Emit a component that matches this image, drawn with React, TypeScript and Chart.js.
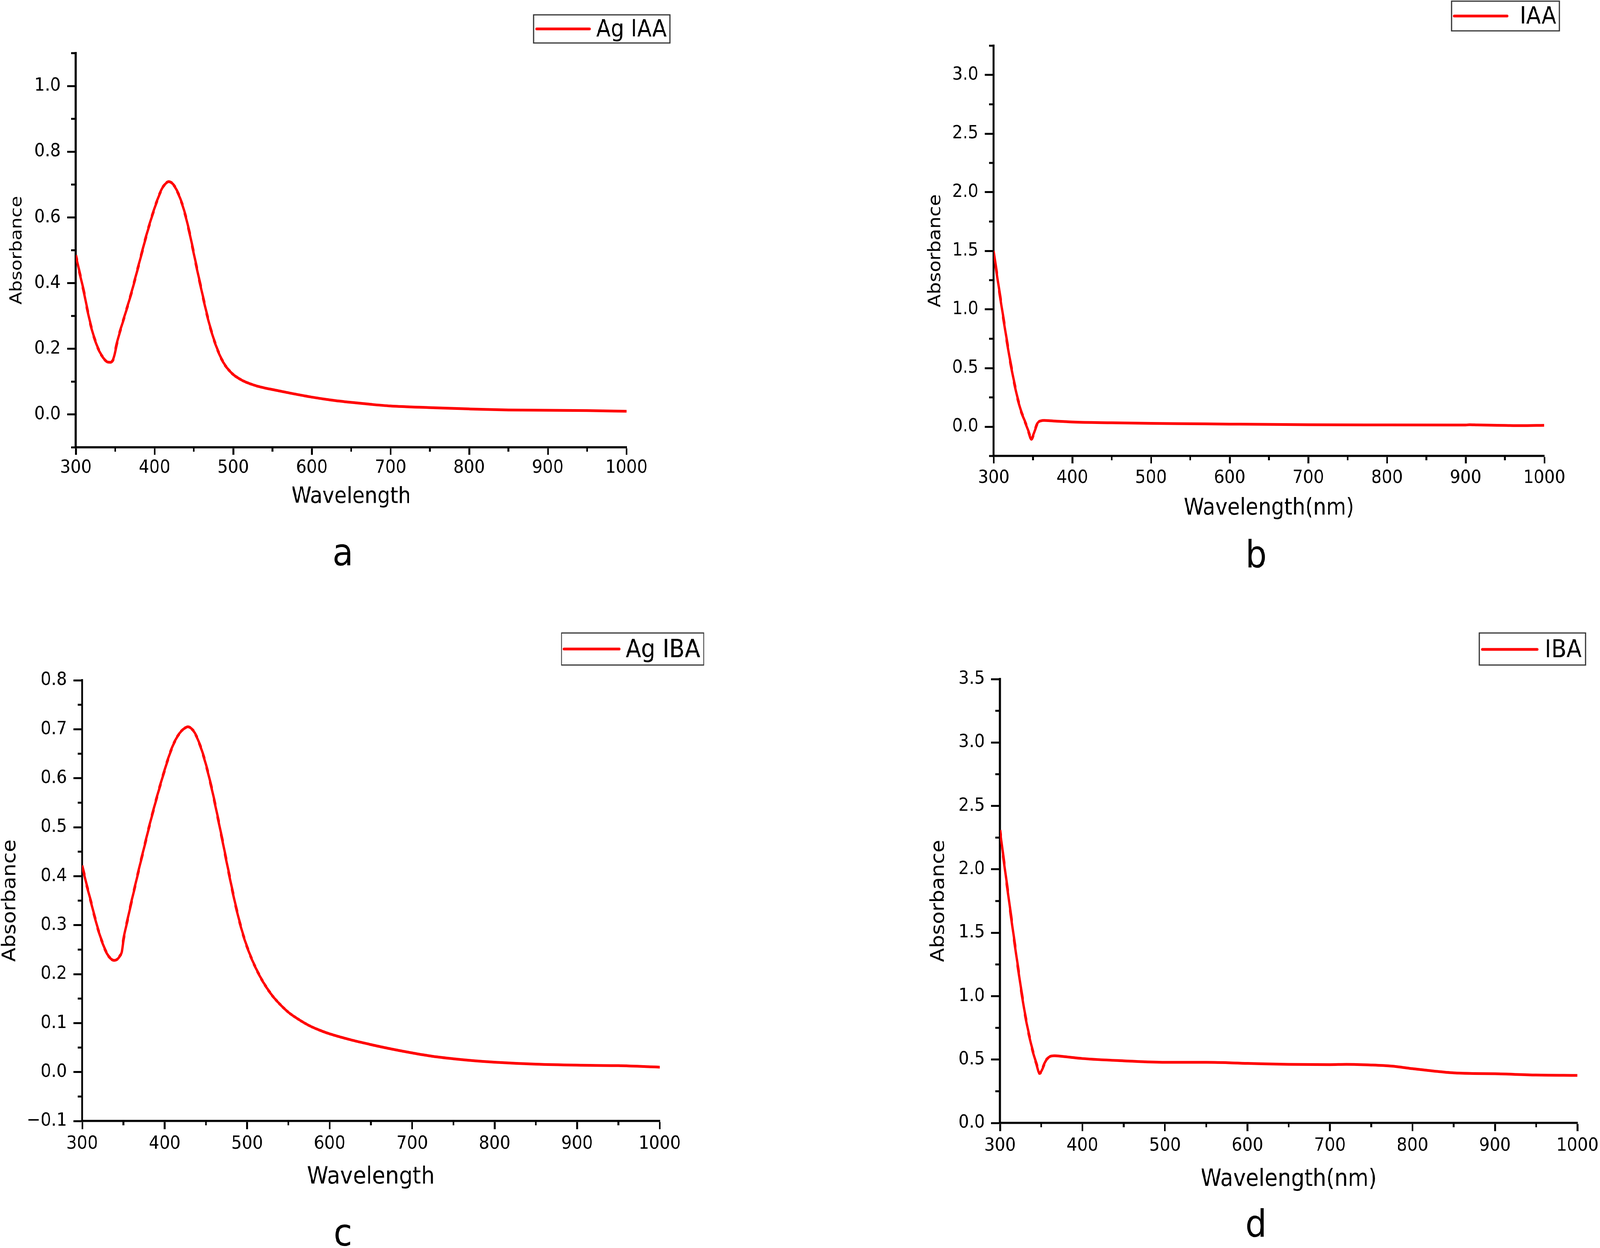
import React, { useEffect, useRef } from "react";
import { Chart, registerables } from "chart.js";

Chart.register(...registerables);

const FONT = "'DejaVu Sans', 'Liberation Sans', sans-serif";

// ---------- shared x axis ----------
const X_MAJOR = [300, 400, 500, 600, 700, 800, 900, 1000];
const X_MINOR = [350, 450, 550, 650, 750, 850, 950];

// ---------- panel a : Ag IAA ----------
const WL_A = [300, 305, 310, 315, 320, 325, 330, 335, 340, 344, 347, 349, 352, 356, 360, 370, 380, 390, 400, 405, 410, 415, 418, 422, 426, 430, 435, 440, 445, 450, 455, 460, 465, 470, 475, 480, 485, 490, 495, 500, 510, 520, 530, 540, 550, 575, 600, 625, 650, 675, 700, 750, 800, 850, 900, 950, 1000];
const ABS_A = [0.485, 0.43, 0.376, 0.315, 0.262, 0.222, 0.192, 0.172, 0.16, 0.159, 0.165, 0.18, 0.215, 0.252, 0.284, 0.365, 0.456, 0.548, 0.628, 0.662, 0.69, 0.705, 0.709, 0.705, 0.693, 0.674, 0.642, 0.6, 0.548, 0.49, 0.432, 0.376, 0.322, 0.273, 0.232, 0.198, 0.17, 0.149, 0.134, 0.122, 0.106, 0.095, 0.087, 0.081, 0.076, 0.064, 0.053, 0.044, 0.037, 0.031, 0.026, 0.021, 0.017, 0.014, 0.013, 0.012, 0.01];
const Y_MAJOR_A = [0, 0.2, 0.4, 0.6, 0.8, 1.0];
const Y_MINOR_A = [-0.1, 0.1, 0.3, 0.5, 0.7, 0.9, 1.1];

// ---------- panel b : IAA ----------
const WL_B = [300, 305, 310, 315, 320, 325, 330, 335, 340, 344, 348, 351, 353, 355, 357, 360, 364, 375, 400, 450, 500, 550, 600, 700, 800, 900, 905, 915, 950, 970, 1000];
const ABS_B = [1.5, 1.26, 1.03, 0.81, 0.6, 0.415, 0.255, 0.13, 0.04, -0.035, -0.108, -0.06, -0.02, 0.02, 0.04, 0.05, 0.053, 0.049, 0.04, 0.033, 0.028, 0.025, 0.022, 0.017, 0.015, 0.014, 0.017, 0.015, 0.011, 0.009, 0.012];
const Y_MAJOR_B = [0, 0.5, 1.0, 1.5, 2.0, 2.5, 3.0];
const Y_MINOR_B = [-0.25, 0.25, 0.75, 1.25, 1.75, 2.25, 2.75, 3.25];

// ---------- panel c : Ag IBA ----------
const WL_C = [300, 305, 310, 315, 320, 325, 330, 335, 339, 343, 346, 348, 350, 355, 360, 370, 380, 390, 400, 405, 410, 415, 420, 425, 428, 432, 436, 440, 445, 450, 455, 460, 465, 470, 475, 480, 485, 490, 495, 500, 505, 510, 515, 520, 530, 540, 550, 560, 575, 590, 600, 625, 650, 675, 700, 725, 750, 775, 800, 850, 900, 950, 1000];
const ABS_C = [0.422, 0.385, 0.352, 0.318, 0.287, 0.262, 0.242, 0.231, 0.228, 0.231, 0.238, 0.245, 0.27, 0.311, 0.35, 0.423, 0.493, 0.558, 0.617, 0.644, 0.667, 0.684, 0.696, 0.703, 0.705, 0.702, 0.694, 0.68, 0.657, 0.628, 0.594, 0.556, 0.515, 0.473, 0.43, 0.388, 0.348, 0.312, 0.281, 0.255, 0.233, 0.214, 0.197, 0.182, 0.157, 0.138, 0.122, 0.11, 0.095, 0.084, 0.078, 0.066, 0.056, 0.047, 0.039, 0.032, 0.027, 0.023, 0.02, 0.016, 0.014, 0.013, 0.01];
const Y_MAJOR_C = [-0.1, 0, 0.1, 0.2, 0.3, 0.4, 0.5, 0.6, 0.7, 0.8];
const Y_MINOR_C = [-0.05, 0.05, 0.15, 0.25, 0.35, 0.45, 0.55, 0.65, 0.75];

// ---------- panel d : IBA ----------
const WL_D = [300, 305, 310, 315, 320, 325, 330, 335, 340, 344, 348, 351, 354, 357, 361, 366, 375, 400, 450, 500, 550, 600, 650, 700, 720, 750, 775, 800, 825, 850, 875, 900, 950, 1000];
const ABS_D = [2.31, 2.05, 1.8, 1.55, 1.31, 1.08, 0.87, 0.7, 0.56, 0.47, 0.39, 0.42, 0.47, 0.505, 0.525, 0.53, 0.525, 0.508, 0.49, 0.478, 0.478, 0.47, 0.462, 0.46, 0.462, 0.457, 0.448, 0.428, 0.41, 0.395, 0.39, 0.388, 0.378, 0.375];
const Y_MAJOR_D = [0, 0.5, 1.0, 1.5, 2.0, 2.5, 3.0, 3.5];
const Y_MINOR_D = [0.25, 0.75, 1.25, 1.75, 2.25, 2.75, 3.25];

type PanelCfg = {
  key: string;
  letter: string;
  left: number;
  top: number;
  wl: number[];
  abs: number[];
  series: string;
  yMin: number;
  yMax: number;
  yMajor: number[];
  yMinor: number[];
  xTitle: string;
  pad: { top: number; right: number };
  yW: number;
  xH: number;
  yTitleSize: number;
  yTitlePad: number;
  xTitleSize: number;
  xTitlePad: number;
  xTickLen: number;
  xTickPad: number;
  legend: { bx1: number; by1: number; bx2: number; by2: number; lx1: number; lx2: number; ly: number; tx: number; ty: number; size: number };
  letterPos: { x: number; y: number };
};

const PAGE_W = 4536;
const PAGE_H = 3194;
const W = 2268;
const H = 1597;
const TICK_FONT = 47;

const PANELS: PanelCfg[] = [
  {
    key: "a", letter: "a", left: 0, top: 0, wl: WL_A, abs: ABS_A, series: "Ag IAA",
    yMin: -0.1, yMax: 1.1, yMajor: Y_MAJOR_A, yMinor: Y_MINOR_A, xTitle: "Wavelength",
    pad: { top: 136, right: 492 }, yW: 215, xH: 452,
    yTitleSize: 47, yTitlePad: 25.5, xTitleSize: 57, xTitlePad: 296, xTickLen: 19, xTickPad: 6,
    legend: { bx1: 1513, by1: 38, bx2: 1899, by2: 110, lx1: 1521, lx2: 1671, ly: 74, tx: 1890, ty: 93, size: 60 },
    letterPos: { x: 972, y: 1447 },
  },
  {
    key: "b", letter: "b", left: W, top: 0, wl: WL_B, abs: ABS_B, series: "IAA",
    yMin: -0.25, yMax: 3.25, yMajor: Y_MAJOR_B, yMinor: Y_MINOR_B, xTitle: "Wavelength(nm)",
    pad: { top: 117, right: 158 }, yW: 549, xH: 430,
    yTitleSize: 49, yTitlePad: 360.5, xTitleSize: 58, xTitlePad: 266, xTickLen: 19, xTickPad: 10,
    legend: { bx1: 1847, by1: 3, bx2: 2153, by2: 79, lx1: 1855, lx2: 2005, ly: 41, tx: 2144, ty: 60, size: 61 },
    letterPos: { x: 1293, y: 1452 },
  },
  {
    key: "c", letter: "c", left: 0, top: H, wl: WL_C, abs: ABS_C, series: "Ag IBA",
    yMin: -0.1, yMax: 0.8, yMajor: Y_MAJOR_C, yMinor: Y_MINOR_C, xTitle: "Wavelength",
    pad: { top: 144, right: 398 }, yW: 233, xH: 325,
    yTitleSize: 53, yTitlePad: 2.5, xTitleSize: 61, xTitlePad: 150, xTickLen: 21, xTickPad: 10,
    legend: { bx1: 1592, by1: 23, bx2: 1995, by2: 105, lx1: 1599, lx2: 1756, ly: 64, tx: 1985, ty: 85, size: 64 },
    letterPos: { x: 972, y: 1591 },
  },
  {
    key: "d", letter: "d", left: W, top: H, wl: WL_D, abs: ABS_D, series: "IBA",
    yMin: 0, yMax: 3.5, yMajor: Y_MAJOR_D, yMinor: Y_MINOR_D, xTitle: "Wavelength(nm)",
    pad: { top: 141, right: 64 }, yW: 567, xH: 320,
    yTitleSize: 53, yTitlePad: 367.5, xTitleSize: 60, xTitlePad: 145, xTickLen: 21, xTickPad: 10,
    legend: { bx1: 1926, by1: 23, bx2: 2227, by2: 105, lx1: 1934, lx2: 2090, ly: 65, tx: 2216, ty: 85, size: 63 },
    letterPos: { x: 1293, y: 1568 },
  },
];

function fmtY(v: number): string {
  const s = Number(v).toFixed(1);
  return s === "-0.0" ? "0.0" : s.replace("-", "\u2212");
}

function Panel({ cfg }: { cfg: PanelCfg }) {
  const ref = useRef<HTMLCanvasElement | null>(null);

  useEffect(() => {
    const canvas = ref.current;
    if (!canvas) return;

    const decorPlugin = {
      id: "decor" + cfg.key,
      afterDraw(chart: any) {
        const ctx = chart.ctx as CanvasRenderingContext2D;
        const xs = chart.scales.x;
        const ys = chart.scales.y;
        ctx.save();
        // minor ticks
        ctx.strokeStyle = "#000";
        ctx.lineWidth = 5;
        ctx.lineCap = "butt";
        for (const v of X_MINOR) {
          const px = xs.getPixelForValue(v);
          ctx.beginPath();
          ctx.moveTo(px, xs.top);
          ctx.lineTo(px, xs.top + 11);
          ctx.stroke();
        }
        for (const v of cfg.yMinor) {
          const py = ys.getPixelForValue(v);
          ctx.beginPath();
          ctx.moveTo(ys.right, py);
          ctx.lineTo(ys.right - 13, py);
          ctx.stroke();
        }
        // legend
        const L = cfg.legend;
        ctx.strokeStyle = "#333";
        ctx.lineWidth = 3;
        ctx.strokeRect(L.bx1, L.by1, L.bx2 - L.bx1, L.by2 - L.by1);
        ctx.strokeStyle = "#ff0000";
        ctx.lineWidth = 7;
        ctx.lineCap = "round";
        ctx.beginPath();
        ctx.moveTo(L.lx1, L.ly);
        ctx.lineTo(L.lx2, L.ly);
        ctx.stroke();
        ctx.fillStyle = "#000";
        ctx.font = `${L.size}px ${FONT}`;
        ctx.textAlign = "right";
        ctx.textBaseline = "alphabetic";
        ctx.fillText(cfg.series, L.tx, L.ty);
        // panel letter
        ctx.font = `96px ${FONT}`;
        ctx.textAlign = "center";
        ctx.fillText(cfg.letter, cfg.letterPos.x, cfg.letterPos.y);
        ctx.restore();
      },
    };

    const chart = new Chart(canvas, {
      type: "line",
      data: {
        datasets: [
          {
            label: cfg.series,
            data: cfg.wl.map((x, i) => ({ x, y: cfg.abs[i] })),
            borderColor: "#ff0000",
            backgroundColor: "#ff0000",
            borderWidth: 7,
            pointRadius: 0,
            fill: false,
            cubicInterpolationMode: "monotone",
          },
        ],
      },
      options: {
        responsive: false,
        maintainAspectRatio: false,
        animation: false,
        devicePixelRatio: 1,
        events: [],
        layout: {
          autoPadding: false,
          padding: { left: 0, top: cfg.pad.top, right: cfg.pad.right, bottom: 0 },
        },
        plugins: {
          legend: { display: false },
          tooltip: { enabled: false },
          title: { display: false },
        },
        scales: {
          x: {
            type: "linear",
            position: "bottom",
            min: 300,
            max: 1000,
            afterBuildTicks: (scale: any) => {
              scale.ticks = X_MAJOR.map((v) => ({ value: v }));
            },
            afterFit: (scale: any) => {
              scale.height = cfg.xH;
              scale.paddingLeft = 0;
              scale.paddingRight = 0;
            },
            grid: {
              display: true,
              drawOnChartArea: false,
              drawTicks: true,
              tickLength: cfg.xTickLen,
              tickWidth: 5,
              tickColor: "#000",
              color: "#000",
            },
            border: { display: true, color: "#000", width: 5.5 },
            ticks: {
              autoSkip: false,
              maxRotation: 0,
              minRotation: 0,
              color: "#000",
              padding: cfg.xTickPad,
              font: { family: FONT, size: TICK_FONT, lineHeight: 1.2 },
              callback: (v: any) => String(v),
            },
            title: {
              display: true,
              text: cfg.xTitle,
              color: "#000",
              font: { family: FONT, size: cfg.xTitleSize, lineHeight: 1 },
              padding: { top: 0, bottom: cfg.xTitlePad },
            },
          },
          y: {
            type: "linear",
            position: "left",
            min: cfg.yMin,
            max: cfg.yMax,
            afterBuildTicks: (scale: any) => {
              scale.ticks = cfg.yMajor.map((v) => ({ value: v }));
            },
            afterFit: (scale: any) => {
              scale.width = cfg.yW;
              scale.paddingTop = 0;
              scale.paddingBottom = 0;
            },
            grid: {
              display: true,
              drawOnChartArea: false,
              drawTicks: true,
              tickLength: 25,
              tickWidth: 5,
              tickColor: "#000",
              color: "#000",
            },
            border: { display: true, color: "#000", width: 5.5 },
            ticks: {
              autoSkip: false,
              color: "#000",
              padding: 18,
              font: { family: FONT, size: TICK_FONT, lineHeight: 1.2 },
              callback: (v: any) => fmtY(Number(v)),
            },
            title: {
              display: true,
              text: "Absorbance",
              color: "#000",
              font: { family: FONT, size: cfg.yTitleSize, lineHeight: 1 },
              padding: { top: cfg.yTitlePad, bottom: 0 },
            },
          },
        },
      },
      plugins: [decorPlugin],
    } as any);

    return () => {
      chart.destroy();
    };
  }, [cfg]);

  return (
    <canvas
      ref={ref}
      width={W}
      height={H}
      style={{ position: "absolute", left: cfg.left, top: cfg.top, width: W, height: H }}
    />
  );
}

export default function App() {
  const vw = typeof window !== "undefined" ? window.innerWidth : PAGE_W;
  const vh = typeof window !== "undefined" ? window.innerHeight : PAGE_H;
  // fill the whole viewport with the 4536x3194 figure
  const sx = vw / PAGE_W;
  const sy = vh / PAGE_H;
  return (
    <div
      style={{
        position: "fixed",
        left: 0,
        top: 0,
        width: vw,
        height: vh,
        overflow: "hidden",
        background: "#ffffff",
      }}
    >
      <div
        style={{
          position: "absolute",
          left: 0,
          top: 0,
          width: PAGE_W,
          height: PAGE_H,
          transform: `scale(${sx}, ${sy})`,
          transformOrigin: "0 0",
          background: "#ffffff",
        }}
      >
        {PANELS.map((p) => (
          <Panel key={p.key} cfg={p} />
        ))}
      </div>
    </div>
  );
}
